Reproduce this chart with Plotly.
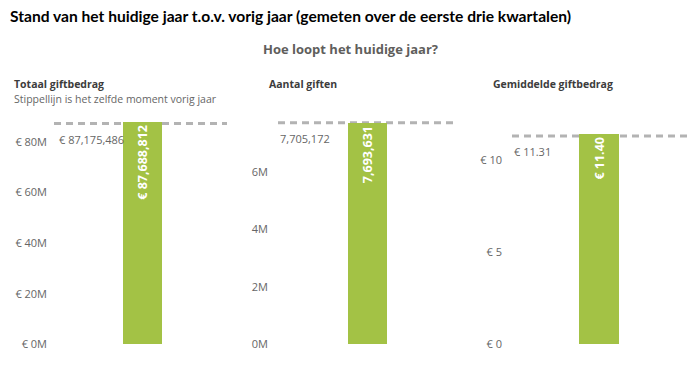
import plotly.graph_objects as go

# ---- data ----
metrics = ["Totaal giftbedrag", "Aantal giften", "Gemiddelde giftbedrag"]
current_values = [87688812, 7693631, 11.40]
previous_values = [87175486, 7705172, 11.31]
current_labels = ["€ 87,688,812", "7,693,631", "€ 11.40"]
previous_labels = ["€ 87,175,486", "7,705,172", "€ 11.31"]
tick_vals_1 = [0, 20e6, 40e6, 60e6, 80e6]
tick_text_1 = ["€ 0M", "€ 20M", "€ 40M", "€ 60M", "€ 80M"]
tick_vals_2 = [0, 2e6, 4e6, 6e6]
tick_text_2 = ["0M", "2M", "4M", "6M"]
tick_vals_3 = [0, 5, 10]
tick_text_3 = ["€ 0", "€ 5", "€ 10"]

# the page body has an 8px margin; the figure is sized to fill the rest
OFF = 8
W, H = 700 - OFF, 376 - OFF
def px(x):
    return (x - OFF) / W
def py(y):
    return 1 - (y - OFF) / H

BAR = "#A3C245"
GRAY_LINE = "#B3B3B3"
TXT_DARK = "#3C3C3C"
TXT_GRAY = "#666666"
FONT = "Open Sans"

panels = [
    dict(dom=(54, 227), xr=[-0.5116, 0.4884], yr=[0, 93.3e6], w=0.225,
         tv=tick_vals_1, tt=tick_text_1, stand=6),
    dict(dom=(278, 457), xr=[-0.5, 0.5], yr=[0, 8.217e6], w=0.218,
         tv=tick_vals_2, tt=tick_text_2, stand=9),
    dict(dom=(512, 690), xr=[-0.4888, 0.5112], yr=[0, 12.82], w=0.225,
         tv=tick_vals_3, tt=tick_text_3, stand=9),
]

fig = go.Figure()
layout = {}
shapes = []
annotations = []
for i, p in enumerate(panels):
    sfx = "" if i == 0 else str(i + 1)
    fig.add_trace(go.Bar(
        x=[metrics[i]], y=[current_values[i]],
        text=[current_labels[i]], textposition="inside", textangle=-90,
        insidetextanchor="end", cliponaxis=False,
        insidetextfont=dict(family=FONT, size=12.5, color="white", weight="bold"),
        marker=dict(color=BAR, line=dict(width=0)), width=p["w"],
        xaxis="x" + sfx, yaxis="y" + sfx, showlegend=False, hoverinfo="skip",
    ))
    layout["xaxis" + sfx] = dict(
        domain=[px(p["dom"][0]), px(p["dom"][1])], range=p["xr"],
        anchor="y" + sfx, showticklabels=False, showgrid=False,
        zeroline=False, showline=False, ticks="", fixedrange=True,
    )
    layout["yaxis" + sfx] = dict(
        domain=[py(351), py(110)], range=p["yr"], anchor="x" + sfx,
        tickvals=p["tv"], ticktext=p["tt"], showgrid=False, zeroline=False,
        showline=False, ticks="", ticklabelstandoff=p["stand"],
        tickfont=dict(family=FONT, size=11, color=TXT_GRAY), fixedrange=True,
    )
    shapes.append(dict(
        type="line", xref="x" + sfx + " domain", yref="y" + sfx,
        x0=0, x1=1, y0=previous_values[i], y1=previous_values[i],
        line=dict(color=GRAY_LINE, width=3, dash="7px,5px"), layer="below",
    ))
    annotations.append(dict(
        text=previous_labels[i], xref="x" + sfx + " domain", yref="y" + sfx,
        x=0.02 if i == 0 else 0, y=previous_values[i], xanchor="left",
        yanchor="top", yshift=-6, showarrow=False,
        font=dict(family=FONT, size=11, color=TXT_GRAY),
    ))

# panel titles
title_x = [12, 267, 491]
for i in range(3):
    annotations.append(dict(
        text=metrics[i], xref="paper", yref="paper", x=px(title_x[i]), y=py(85),
        xanchor="left", yanchor="middle", showarrow=False,
        font=dict(family=FONT, size=10.5, color=TXT_DARK, weight="bold"),
    ))
annotations.append(dict(
    text="Stippellijn is het zelfde moment vorig jaar", xref="paper", yref="paper",
    x=px(12), y=py(101), xanchor="left", yanchor="middle", showarrow=False,
    font=dict(family=FONT, size=10.5, color=TXT_GRAY),
))
annotations.append(dict(
    text="Hoe loopt het huidige jaar?", xref="paper", yref="paper",
    x=px(350), y=py(50), xanchor="center", yanchor="middle", showarrow=False,
    font=dict(family=FONT, size=13, color="#605E5C", weight="bold"),
))
annotations.append(dict(
    text="Stand van het huidige jaar t.o.v. vorig jaar (gemeten over de eerste drie kwartalen)",
    xref="paper", yref="paper", x=px(8), y=py(16.5), xanchor="left",
    yanchor="middle", showarrow=False,
    font=dict(family="Lato", size=15.6, color="#000000", weight="bold"),
))

fig.update_layout(
    width=W, height=H, margin=dict(l=0, r=0, t=0, b=0),
    paper_bgcolor="white", plot_bgcolor="white",
    shapes=shapes, annotations=annotations, bargap=0, **layout,
)
fig.write_html("out.html")
